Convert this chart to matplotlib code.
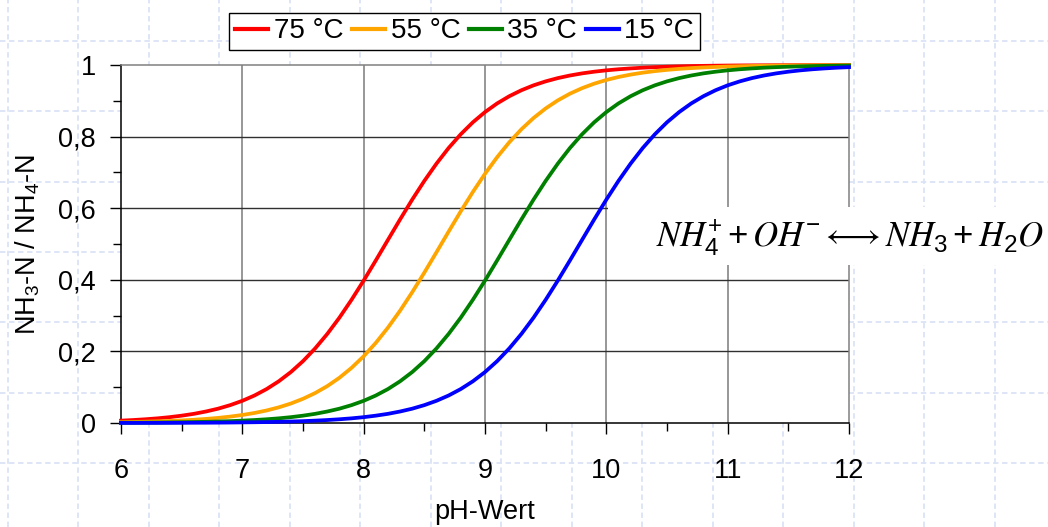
import numpy as np
import matplotlib
matplotlib.use("Agg")
import matplotlib.pyplot as plt
from matplotlib.lines import Line2D
from matplotlib.patches import Rectangle
from matplotlib.ticker import MultipleLocator, FixedLocator, FixedFormatter

plt.rcParams['font.family'] = ['Liberation Sans', 'DejaVu Sans']
plt.rcParams['mathtext.default'] = 'regular'

# pH values 6.0 ... 12.0 in steps of 0.1
ph = np.round(np.arange(6.0, 12.0001, 0.1), 1)

# NH3 share of total ammonia nitrogen for each temperature
t75 = [0.0066, 0.0083, 0.0104, 0.0130, 0.0163, 0.0205, 0.0256, 0.0321, 0.0400, 0.0499,
       0.0620, 0.0768, 0.0948, 0.1165, 0.1423, 0.1728, 0.2083, 0.2488, 0.2942, 0.3442,
       0.3978, 0.4541, 0.5115, 0.5686, 0.6240, 0.6763, 0.7245, 0.7681, 0.8065, 0.8400,
       0.8685, 0.8927, 0.9128, 0.9295, 0.9432, 0.9543, 0.9634, 0.9707, 0.9766, 0.9813,
       0.9851, 0.9881, 0.9905, 0.9925, 0.9940, 0.9952, 0.9962, 0.9970, 0.9976, 0.9981,
       0.9985, 0.9988, 0.9990, 0.9992, 0.9994, 0.9995, 0.9996, 0.9997, 0.9998, 0.9998,
       0.9998]
t55 = [0.0023, 0.0029, 0.0036, 0.0046, 0.0057, 0.0072, 0.0090, 0.0114, 0.0142, 0.0179,
       0.0224, 0.0280, 0.0350, 0.0437, 0.0544, 0.0676, 0.0836, 0.1030, 0.1263, 0.1540,
       0.1864, 0.2238, 0.2664, 0.3137, 0.3653, 0.4201, 0.4770, 0.5345, 0.5911, 0.6454,
       0.6961, 0.7425, 0.7841, 0.8205, 0.8519, 0.8787, 0.9012, 0.9199, 0.9353, 0.9479,
       0.9582, 0.9665, 0.9732, 0.9786, 0.9829, 0.9864, 0.9892, 0.9914, 0.9931, 0.9945,
       0.9957, 0.9965, 0.9973, 0.9978, 0.9983, 0.9986, 0.9989, 0.9991, 0.9993, 0.9995,
       0.9996]
t35 = [0.0007, 0.0008, 0.0010, 0.0013, 0.0017, 0.0021, 0.0026, 0.0033, 0.0042, 0.0052,
       0.0066, 0.0083, 0.0104, 0.0130, 0.0163, 0.0205, 0.0256, 0.0321, 0.0400, 0.0499,
       0.0620, 0.0768, 0.0948, 0.1165, 0.1423, 0.1728, 0.2083, 0.2488, 0.2942, 0.3442,
       0.3978, 0.4541, 0.5115, 0.5686, 0.6240, 0.6763, 0.7245, 0.7681, 0.8065, 0.8400,
       0.8685, 0.8927, 0.9128, 0.9295, 0.9432, 0.9543, 0.9634, 0.9707, 0.9766, 0.9813,
       0.9851, 0.9881, 0.9905, 0.9925, 0.9940, 0.9952, 0.9962, 0.9970, 0.9976, 0.9981,
       0.9985]
t15 = [0.0002, 0.0002, 0.0003, 0.0003, 0.0004, 0.0005, 0.0007, 0.0008, 0.0010, 0.0013,
       0.0017, 0.0021, 0.0026, 0.0033, 0.0042, 0.0052, 0.0066, 0.0083, 0.0104, 0.0130,
       0.0163, 0.0205, 0.0256, 0.0321, 0.0400, 0.0499, 0.0620, 0.0768, 0.0948, 0.1165,
       0.1423, 0.1728, 0.2083, 0.2488, 0.2942, 0.3442, 0.3978, 0.4541, 0.5115, 0.5686,
       0.6240, 0.6763, 0.7245, 0.7681, 0.8065, 0.8400, 0.8685, 0.8927, 0.9128, 0.9295,
       0.9432, 0.9543, 0.9634, 0.9707, 0.9766, 0.9813, 0.9851, 0.9881, 0.9905, 0.9925,
       0.9940]

series = [t75, t55, t35, t15]
labels = ['75 °C', '55 °C', '35 °C', '15 °C']
colors = ['#ff0000', '#ffa500', '#008000', '#0000ff']

y_ticks = [0, 0.2, 0.4, 0.6, 0.8, 1]
y_ticklabels = ['0', '0,2', '0,4', '0,6', '0,8', '1']
x_ticks = [6, 7, 8, 9, 10, 11, 12]

W, H = 1048, 527
fig = plt.figure(figsize=(W / 100, H / 100), dpi=100)

# faint dashed background raster
bg_col = '#dbe3f6'
for px in 7.5 + 70.5 * np.arange(15):
    fig.add_artist(Line2D([px / W, px / W], [0, 1], color=bg_col, lw=1.3,
                          ls=(0, (3, 2)), zorder=-5))
for py in 41 + 70.35 * np.arange(7):
    fig.add_artist(Line2D([0, 1], [1 - py / H, 1 - py / H], color=bg_col, lw=1.3,
                          ls=(0, (3, 2)), zorder=-5))

ax = fig.add_axes([121 / W, 1 - 423 / H, (849 - 121) / W, (423 - 65) / H])
ax.set_facecolor('white')

for vals, lab, col in zip(series, labels, colors):
    ax.plot(ph, vals, color=col, lw=2.7, label=lab, zorder=3, clip_on=False,
            solid_joinstyle='round')

ax.set_xlim(6, 12)
ax.set_ylim(0, 1)

ax.yaxis.set_major_locator(FixedLocator(y_ticks))
ax.yaxis.set_major_formatter(FixedFormatter(y_ticklabels))
ax.yaxis.set_minor_locator(MultipleLocator(0.1))
ax.xaxis.set_major_locator(FixedLocator(x_ticks))
ax.xaxis.set_minor_locator(MultipleLocator(0.5))

ax.tick_params(axis='both', which='major', direction='out', length=8, width=1,
               color='black', labelsize=19.5)
ax.tick_params(axis='both', which='minor', direction='out', length=6, width=1,
               color='black')
ax.tick_params(axis='y', which='major', pad=10)
ax.tick_params(axis='x', which='major', pad=17)

for x in x_ticks[1:-1]:
    ax.axvline(x, color='#7a7a7a', lw=1.1, zorder=1)
for y in y_ticks[1:-1]:
    ax.axhline(y, color='#303030', lw=1.0, zorder=1)

ax.spines['left'].set_color('black')
ax.spines['bottom'].set_color('black')
ax.spines['top'].set_color('#808080')
ax.spines['right'].set_color('#808080')
for s in ax.spines.values():
    s.set_linewidth(1.1)

fig.text(28 / W, 1 - 244 / H, 'NH$_3$-N / NH$_4$-N', rotation=90,
         ha='center', va='center', fontsize=19.5)
fig.text(485 / W, 1 - 512 / H, 'pH-Wert', ha='center', va='center', fontsize=19.5)

leg = ax.legend(loc='center', bbox_to_anchor=(464.5 / W, 1 - 31.5 / H),
                bbox_transform=fig.transFigure, ncol=4, fontsize=20,
                frameon=True, fancybox=False, handlelength=1.2,
                handletextpad=0.2, columnspacing=0.3, borderpad=0.2,
                borderaxespad=0)
leg.get_frame().set_edgecolor('black')
leg.get_frame().set_linewidth(1.0)
leg.get_frame().set_facecolor('white')
leg.get_frame().set_alpha(1)
for h in leg.get_lines():
    h.set_linewidth(3)

# reaction equation on a white panel
fig.add_artist(Rectangle((608 / W, 1 - 265 / H), (W - 608) / W, 58 / H,
                         transform=fig.transFigure, facecolor='white',
                         edgecolor='none', zorder=5))
fig.text(1044 / W, 1 - 238 / H,
         r'$\mathit{NH}_4^{+} + \mathit{OH}^{-} \longleftrightarrow '
         r'\mathit{NH}_3 + \mathit{H}_2\mathit{O}$',
         math_fontfamily='stix', ha='right', va='center', fontsize=25, zorder=6)

fig.savefig('out.png', dpi=100)
